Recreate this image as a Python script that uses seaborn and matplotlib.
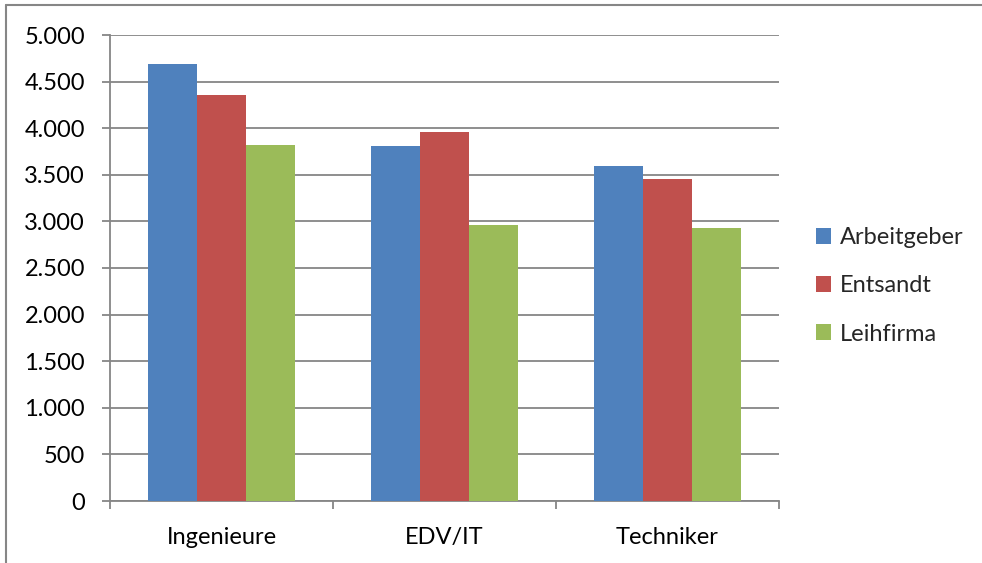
import pandas as pd
import matplotlib
matplotlib.use('Agg')
import matplotlib.pyplot as plt
from matplotlib.ticker import FuncFormatter, FixedLocator
from matplotlib.lines import Line2D
import seaborn as sns

# data
berufe = ['Ingenieure', 'EDV/IT', 'Techniker']
arbeitgeber = [4690, 3810, 3595]
entsandt = [4355, 3955, 3455]
leihfirma = [3822, 2961, 2929]
serien = ['Arbeitgeber', 'Entsandt', 'Leihfirma']
farben = ['#4F81BD', '#C0504D', '#9BBB59']

df = pd.DataFrame({
    'Beruf': berufe * 3,
    'Art': [serien[0]] * 3 + [serien[1]] * 3 + [serien[2]] * 3,
    'Wert': arbeitgeber + entsandt + leihfirma,
})

sns.set_style('white')
plt.rcParams['font.family'] = ['Lato', 'DejaVu Sans']
fs = 17

fig = plt.figure(figsize=(9.82, 5.63), dpi=100)
ax = fig.add_axes([110/982, 1 - 501/563, (779 - 110)/982, (501 - 35)/563])

sns.barplot(data=df, x='Beruf', y='Wert', hue='Art', palette=farben,
            width=0.66, saturation=1, ax=ax, legend=True, zorder=3,
            linewidth=0)

grau = '#868686'
ax.set_ylim(0, 5000)
ax.set_xlim(-0.5, 2.5)
ax.set_yticks(range(0, 5001, 500))
ax.yaxis.set_major_formatter(FuncFormatter(lambda v, p: f'{v:,.0f}'.replace(',', '.')))
ax.yaxis.grid(True, color=grau, linewidth=1.3, zorder=0)
ax.set_axisbelow(True)
ax.set_xlabel('')
ax.set_ylabel('')

for s in ['top', 'right']:
    ax.spines[s].set_visible(False)
for s in ['left', 'bottom']:
    ax.spines[s].set_color(grau)
    ax.spines[s].set_linewidth(1.3)

ax.tick_params(axis='y', which='major', length=6, width=1.3, color=grau,
               labelsize=fs, pad=12, left=True, labelcolor='black')
ax.tick_params(axis='x', which='major', length=0, labelsize=fs, pad=19,
               labelcolor='black')
ax.xaxis.set_minor_locator(FixedLocator([-0.5, 0.5, 1.5, 2.5]))
ax.tick_params(axis='x', which='minor', length=6, width=1.3, color=grau,
               bottom=True)

ax.legend(loc='center left', bbox_to_anchor=(816/982, 1 - 286/563),
          bbox_transform=fig.transFigure, frameon=False, fontsize=fs,
          handlelength=0.65, handleheight=0.65, handletextpad=0.35,
          labelspacing=1.15, borderaxespad=0, borderpad=0)

# outer chart border (only left and top visible)
fig.add_artist(Line2D([6/982, 6/982], [0, 1 - 5/563], color=grau,
                      linewidth=1.5, transform=fig.transFigure))
fig.add_artist(Line2D([6/982, 1], [1 - 5/563, 1 - 5/563], color=grau,
                      linewidth=1.5, transform=fig.transFigure))

fig.savefig('out.png', dpi=100)
